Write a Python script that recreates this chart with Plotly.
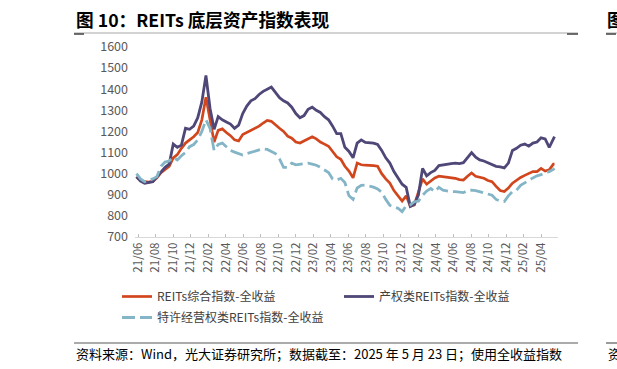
import pandas as pd
import plotly.graph_objects as go

# ---------------- data ----------------
dates = pd.date_range("2021-06-21", periods=103, freq="14D").strftime("%Y-%m-%d").tolist() + ["2025-05-23"]

reits_all = [985, 968, 962, 960, 963, 980, 1005, 1020, 1035, 1075,
             1090, 1120, 1145, 1160, 1175, 1195, 1255, 1362, 1250, 1150,
             1205, 1212, 1195, 1180, 1160, 1155, 1185, 1195, 1205, 1215,
             1225, 1240, 1252, 1248, 1230, 1215, 1200, 1178, 1168, 1150,
             1145, 1155, 1168, 1175, 1165, 1150, 1140, 1130, 1105, 1080,
             1068, 1035, 1012, 980, 1050, 1042, 1040, 1040, 1038, 1035,
             1000, 975, 955, 920, 895, 870, 895, 845, 852, 910,
             975, 950, 965, 980, 988, 986, 982, 980, 978, 972,
             970, 988, 1003, 988, 983, 978, 968, 962, 940, 920,
             915, 932, 955, 970, 982, 992, 1000, 1010, 1010, 1025,
             1012, 1018, 1045, 1045]

property_reits = [985, 965, 955, 958, 962, 985, 1010, 1030, 1045, 1140,
                  1125, 1135, 1215, 1210, 1225, 1265, 1340, 1465, 1310, 1210,
                  1270, 1255, 1245, 1235, 1215, 1230, 1285, 1320, 1345, 1355,
                  1375, 1390, 1400, 1410, 1385, 1360, 1345, 1335, 1315, 1285,
                  1265, 1275, 1305, 1315, 1300, 1290, 1270, 1255, 1225, 1190,
                  1190, 1125, 1105, 1075, 1145, 1160, 1148, 1145, 1145, 1138,
                  1110, 1075, 1050, 1010, 980, 950, 935, 845, 855, 900,
                  1025, 990, 1005, 1015, 1038, 1042, 1045, 1048, 1050, 1048,
                  1052, 1075, 1100, 1078, 1065, 1060, 1052, 1042, 1035, 1032,
                  1027, 1050, 1110, 1120, 1135, 1140, 1130, 1145, 1150, 1170,
                  1165, 1125, 1165, 1175]

franchise_reits = [1000, 975, 962, 968, 975, 986, 1035, 1055, 1060, 1078,
                   1065, 1085, 1100, 1128, 1138, 1160, 1200, 1255, 1215, 1110,
                   1138, 1145, 1128, 1110, 1102, 1095, 1088, 1095, 1100, 1105,
                   1112, 1118, 1115, 1105, 1095, 1070, 1030, 1030, 1050, 1042,
                   1045, 1050, 1050, 1045, 1040, 1030, 1018, 1005, 975, 970,
                   978, 958, 895, 878, 932, 945, 946, 942, 936, 928,
                   912, 878, 850, 842, 836, 820, 848, 852, 867, 870,
                   898, 918, 930, 915, 935, 922, 918, 915, 915, 912,
                   910, 920, 922, 920, 915, 910, 905, 898, 878, 870,
                   868, 895, 915, 922, 945, 958, 970, 980, 990, 995,
                   1005, 1010, 1020, 1025]

series_names = ["REITs综合指数-全收益", "产权类REITs指数-全收益", "特许经营权类REITs指数-全收益"]

tick_dates = ["2021-06-27", "2021-08-26", "2021-10-25", "2021-12-24", "2022-02-22", "2022-04-23",
              "2022-06-22", "2022-08-21", "2022-10-20", "2022-12-19", "2023-02-17", "2023-04-18",
              "2023-06-17", "2023-08-16", "2023-10-15", "2023-12-14", "2024-02-12", "2024-04-12",
              "2024-06-11", "2024-08-10", "2024-10-09", "2024-12-08", "2025-02-06", "2025-04-07"]
tick_labels = ["21/06", "21/08", "21/10", "21/12", "22/02", "22/04", "22/06", "22/08", "22/10",
               "22/12", "23/02", "23/04", "23/06", "23/08", "23/10", "23/12", "24/02", "24/04",
               "24/06", "24/08", "24/10", "24/12", "25/02", "25/04"]

title_text = "图 10：REITs 底层资产指数表现"
source_text = "资料来源：Wind，光大证券研究所；数据截至：2025 年 5 月 23 日；使用全收益指数"

# ---------------- layout helpers ----------------
W, H = 617, 369
L, R, T, B = 135, 558, 47, 237
FONT = "Noto Sans CJK SC"


def px(x):
    return (x - L) / (R - L)


def py(y):
    return (B - y) / (B - T)


fig = go.Figure()
fig.add_trace(go.Scatter(x=dates, y=reits_all, mode="lines", name=series_names[0],
                         line=dict(color="#D2461E", width=2.7), legend="legend"))
fig.add_trace(go.Scatter(x=dates, y=property_reits, mode="lines", name=series_names[1],
                         line=dict(color="#4E4777", width=2.8), legend="legend"))
fig.add_trace(go.Scatter(x=dates, y=franchise_reits, mode="lines", name=series_names[2],
                         line=dict(color="#84B5C7", width=2.8, dash="13px,5px"), legend="legend2"))

shapes = []


def hline(x0, x1, y, color, width):
    shapes.append(dict(type="line", xref="paper", yref="paper", x0=px(x0), x1=px(x1),
                       y0=py(y), y1=py(y), line=dict(color=color, width=width)))


hline(74, 578, 33, "#A6A6A6", 1)
hline(74, 84, 34, "#404040", 1.5)
hline(567, 578, 34, "#404040", 1.5)
hline(606, 617, 33, "#A6A6A6", 1)
hline(606, 616, 34, "#404040", 1.5)
hline(74, 578, 343, "#595959", 1.2)
hline(606, 617, 343, "#595959", 1.2)

annotations = [
    dict(text="<b>" + title_text + "</b>", x=px(74), y=py(19), xref="paper", yref="paper",
         xanchor="left", yanchor="middle", showarrow=False,
         font=dict(family=FONT, size=17.7, color="#000000")),
    dict(text="<b>图</b>", x=px(605), y=py(19), xref="paper", yref="paper",
         xanchor="left", yanchor="middle", showarrow=False,
         font=dict(family=FONT, size=17.7, color="#000000")),
    dict(text=source_text, x=px(74), y=py(353), xref="paper", yref="paper",
         xanchor="left", yanchor="middle", showarrow=False,
         font=dict(family=FONT, size=13, color="#000000")),
    dict(text="资", x=px(606), y=py(353), xref="paper", yref="paper",
         xanchor="left", yanchor="middle", showarrow=False,
         font=dict(family=FONT, size=13, color="#000000")),
]

legend_common = dict(orientation="h", xanchor="left", yanchor="top",
                     font=dict(family=FONT, size=12, color="#404040"),
                     bgcolor="rgba(0,0,0,0)", entrywidth=177, entrywidthmode="pixels",
                     itemwidth=30, tracegroupgap=0)

fig.update_layout(
    width=W, height=H,
    margin=dict(l=L, r=W - R, t=T, b=H - B, pad=0),
    paper_bgcolor="white", plot_bgcolor="white",
    font=dict(family=FONT, color="#595959"),
    showlegend=True,
    legend=dict(x=px(117), y=py(282), **legend_common),
    legend2=dict(x=px(117), y=py(303), **legend_common),
    shapes=shapes,
    annotations=annotations,
    xaxis=dict(type="date", range=["2021-06-16", "2025-06-04"],
               tickmode="array", tickvals=tick_dates, ticktext=tick_labels,
               tickangle=-90, ticks="inside", ticklen=3, tickcolor="#BFBFBF", tickwidth=1,
               showline=True, linecolor="#D9D9D9", linewidth=1, showgrid=False, zeroline=False,
               tickfont=dict(family=FONT, size=11.5, color="#595959")),
    yaxis=dict(range=[700, 1600], dtick=100, tick0=700, showgrid=False, zeroline=False,
               showline=False, ticks="", ticklabelstandoff=6,
               tickfont=dict(family=FONT, size=12.5, color="#595959")),
)

fig.write_html("out.html", config={"displayModeBar": False},
               post_script="document.body.style.margin='0px';document.body.style.padding='0px';")
